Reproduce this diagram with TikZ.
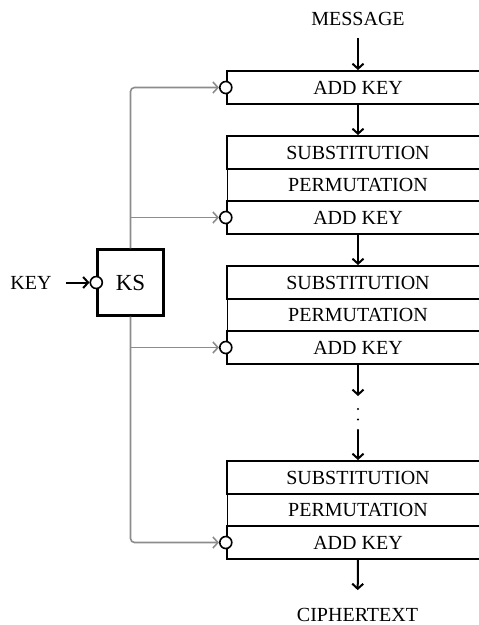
\documentclass[tikz,border=0pt]{standalone}
\usepackage{fontspec}
\setmainfont{Liberation Serif}
\usetikzlibrary{arrows.meta}
\begin{document}
\begin{tikzpicture}[x=1pt,y=-1pt,
  stage/.style={draw, line width=2.4pt, minimum width=262pt, minimum height=32.5pt,
    inner sep=0pt, font=\fontsize{20}{24}\selectfont},
  thinstage/.style={stage, line width=1pt},
  port/.style={circle, draw, fill=white, line width=1.6pt, minimum size=12pt, inner sep=0pt},
  tip/.style={-{Straight Barb[length=5pt,width=11pt]}},
  flow/.style={draw, line width=2pt, tip},
  keyline/.style={draw=black!45, line width=1.6pt, rounded corners=4pt},
  keyarrow/.style={keyline, tip},
  lbl/.style={font=\fontsize{20}{24}\selectfont, inner sep=0pt}
]
\useasboundingbox (0,0) rectangle (479,625);
\clip (0,0) rectangle (479,625);

% plaintext / ciphertext labels
\node[lbl] (msg) at (358,19) {MESSAGE};
\node[lbl] (ct) at (357.5,615.3) {CIPHERTEXT};

% initial key addition
\node[stage] (ak1) at (358,87.5) {ADD KEY};

% round 1
\node[thinstage] (p2) at (358,185) {PERMUTATION};
\node[stage] (s2) at (358,152.5) {SUBSTITUTION};
\node[stage] (ak2) at (358,217.5) {ADD KEY};

% round 2
\node[thinstage] (p3) at (358,315) {PERMUTATION};
\node[stage] (s3) at (358,282.5) {SUBSTITUTION};
\node[stage] (ak3) at (358,347.5) {ADD KEY};

% last round
\node[thinstage] (p4) at (358,510) {PERMUTATION};
\node[stage] (s4) at (358,477.5) {SUBSTITUTION};
\node[stage] (ak4) at (358,542.5) {ADD KEY};

% key schedule
\node[draw, line width=2.4pt, minimum size=66pt, inner sep=0pt,
      font=\fontsize{23}{27}\selectfont] (ks) at (130.5,282.5) {KS};
\node[lbl] (key) at (31,282.5) {KEY};

% input ports
\node[port] (c1) at (ak1.west) {};
\node[port] (c2) at (ak2.west) {};
\node[port] (c3) at (ak3.west) {};
\node[port] (c4) at (ak4.west) {};
\node[port] (ck) at (ks.west) {};

% data path
\draw[flow, shorten <=12pt] (msg.south) -- (ak1.north);
\draw[flow] (ak1.south) -- (s2.north);
\draw[flow] (ak2.south) -- (s3.north);
\coordinate (d1) at (358,396);
\coordinate (d2) at (358,430);
\draw[flow] (ak3.south) -- (d1);
\foreach \y in {409,419.5,430} \fill (358,\y) circle (1.2pt);
\draw[flow] (d2) -- (s4.north);
\draw[flow, shorten >=18.3pt] (ak4.south) -- (ct.north);

% round-key distribution
\draw[keyarrow] (ks.north) |- (c1.west);
\draw[keyarrow] (ks.north |- c2.west) -- (c2.west);
\draw[keyarrow] (ks.south |- c3.west) -- (c3.west);
\draw[keyarrow] (ks.south) |- (c4.west);

\draw[flow, shorten <=14pt] (key.east) -- (ck.west);
\end{tikzpicture}
\end{document}
